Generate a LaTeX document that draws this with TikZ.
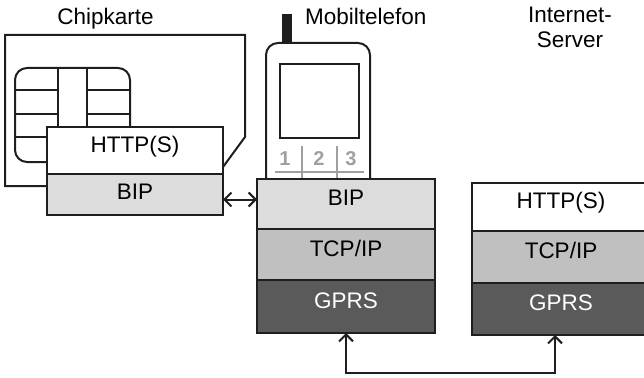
\documentclass[tikz,border=0pt]{standalone}
\usepackage{fontspec}
\setmainfont{Liberation Sans}
\usetikzlibrary{positioning, arrows.meta}

\definecolor{linegray}{HTML}{1E1E1E}
\definecolor{bipgray}{HTML}{DCDCDC}
\definecolor{tcpgray}{HTML}{C0C0C0}
\definecolor{gprsgray}{HTML}{5A5A5A}
\definecolor{keygray}{HTML}{A0A0A0}

\tikzset{
  outline/.style={draw=linegray, line width=2pt},
  layer/.style={rectangle, outline, inner sep=0pt, outer sep=0pt, minimum width=178pt,
    text height=16pt, text depth=13pt, font=\fontsize{22.5}{25}\selectfont},
  title/.style={inner sep=0pt, font=\fontsize{22.5}{25}\selectfont},
  keyline/.style={draw=keygray, line width=2.2pt},
  key/.style={text=keygray, inner sep=0pt, font=\bfseries\fontsize{20}{20}\selectfont},
  link/.style={draw=linegray, line width=2pt,
    {Straight Barb[length=7pt, width=14pt]}-{Straight Barb[length=7pt, width=14pt]}},
}

\begin{document}
\begin{tikzpicture}[x=1pt, y=-1pt, node distance=0pt]
  \useasboundingbox (0, 0) rectangle (644, 377);

  % titles
  \node (chipcard) [title, anchor=base] at (105.5, 25) {Chipkarte};
  \node (mobile) [title, anchor=base west] at (305, 25) {Mobiltelefon};
  \node (server) [title, anchor=north, align=center] at (570, 7) {Internet-\\Server};

  % chip card with contact pad
  \draw[outline] (47, 186) -- (5, 186) -- (5, 35) -- (245, 35) -- (245, 137) -- (223, 167);
  \draw[outline, rounded corners=12pt] (15, 68) rectangle (130, 162);
  \draw[outline] (58, 68) -- (58, 162) (87, 68) -- (87, 162);
  \foreach \y in {90, 114, 137} {
    \draw[outline] (15, \y) -- (58, \y) (87, \y) -- (130, \y);
  }

  % card stack
  \node (cardhttp) [layer, minimum width=176pt, minimum height=47pt, fill=white, anchor=north west] at (47, 127) {HTTP(S)};
  \node (cardbip) [layer, minimum width=176pt, minimum height=41pt, fill=bipgray, text depth=6pt, below=of cardhttp] {BIP};

  % mobile phone
  \fill[linegray] (282, 14) rectangle (292, 43);
  \draw[outline, rounded corners=12pt] (266, 180) -- (266, 43) -- (370, 43) -- (370, 180);
  \draw[outline] (280, 64) rectangle (359, 138);
  \draw[keyline] (275, 172) -- (364, 172);
  \draw[keyline] (302, 146) -- (302, 179) (337, 146) -- (337, 179);
  \node (key1) [key] at (285, 159) {1};
  \node (key2) [key] at (319, 159) {2};
  \node (key3) [key] at (351, 159) {3};

  % phone stack
  \node (phbip) [layer, minimum height=50pt, fill=bipgray, anchor=north west] at (257, 179) {BIP};
  \node (phtcp) [layer, minimum height=51pt, fill=tcpgray, below=of phbip] {TCP/IP};
  \node (phgprs) [layer, minimum height=53pt, fill=gprsgray, text=white, below=of phtcp] {GPRS};

  % server stack
  \node (srvhttp) [layer, minimum height=48pt, fill=white, anchor=north west] at (472, 183) {HTTP(S)};
  \node (srvtcp) [layer, minimum height=52pt, fill=tcpgray, below=of srvhttp] {TCP/IP};
  \node (srvgprs) [layer, minimum height=52pt, fill=gprsgray, text=white, below=of srvtcp] {GPRS};

  % links
  \draw[link] ([yshift=-5pt]cardbip.east) -- ([yshift=-5pt]cardbip.east -| phbip.west);
  \draw[link] (phgprs.south) -- ++(0, 40) -| ([xshift=-6pt]srvgprs.south);
\end{tikzpicture}
\end{document}
